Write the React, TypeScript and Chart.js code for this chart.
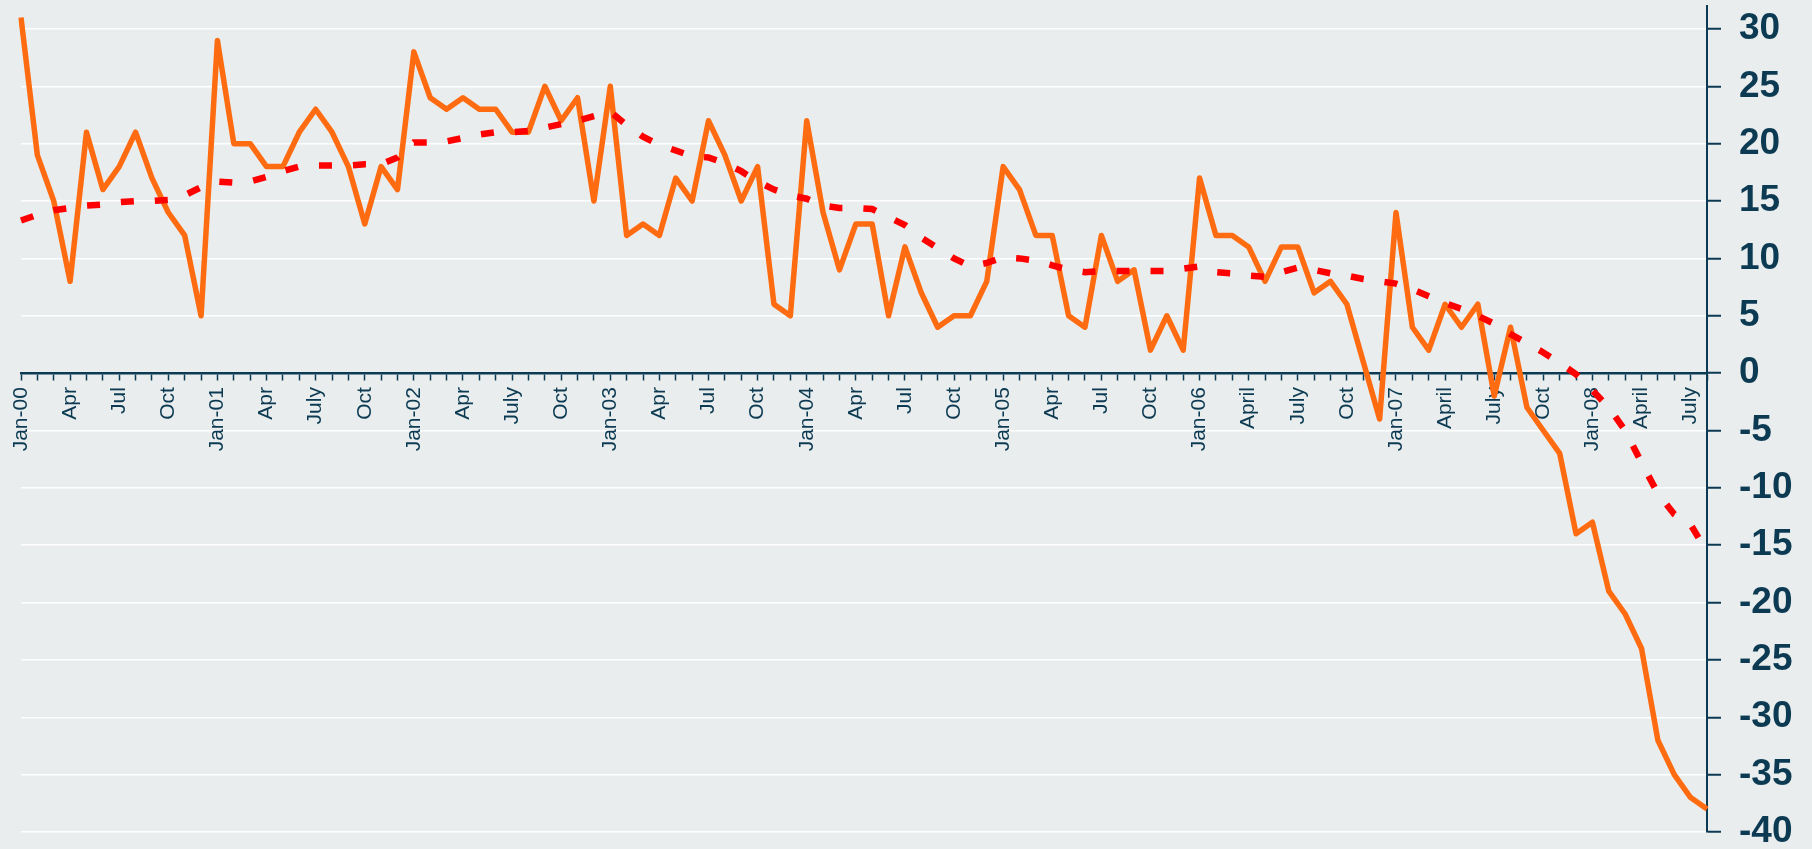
import React, { useEffect, useRef } from 'react';
import { Chart, registerables } from 'chart.js';

Chart.register(...registerables);

const NAVY = '#0B3A52';
const BG = '#E9EDED';
const FONT = '"Liberation Sans", Arial, Helvetica, sans-serif';

// Tick labels shown every third month (Jan-00 ... July-08)
const tickLabels = [
  'Jan-00', 'Apr', 'Jul', 'Oct',
  'Jan-01', 'Apr', 'July', 'Oct',
  'Jan-02', 'Apr', 'July', 'Oct',
  'Jan-03', 'Apr', 'Jul', 'Oct',
  'Jan-04', 'Apr', 'Jul', 'Oct',
  'Jan-05', 'Apr', 'Jul', 'Oct',
  'Jan-06', 'April', 'July', 'Oct',
  'Jan-07', 'April', 'July', 'Oct',
  'Jan-08', 'April', 'July',
];

// Value-axis tick labels
const yTicks = [-40, -35, -30, -25, -20, -15, -10, -5, 0, 5, 10, 15, 20, 25, 30];

const monthNames = ['Jan', 'Feb', 'Mar', 'Apr', 'May', 'Jun', 'Jul', 'Aug', 'Sep', 'Oct', 'Nov', 'Dec'];
const years = ['00', '01', '02', '03', '04', '05', '06', '07', '08'];
const categories: string[] = [];
years.forEach((y) => monthNames.forEach((m) => categories.push(`${m}-${y}`)));
categories.length = 104; // Jan-00 .. Aug-08

// Solid orange series (monthly)
const orangeValues = [
  31, 19, 15, 8, 21, 16, 18, 21, 17, 14, 12, 5,
  29, 20, 20, 18, 18, 21, 23, 21, 18, 13, 18, 16,
  28, 24, 23, 24, 23, 23, 21, 21, 25, 22, 24, 15,
  25, 12, 13, 12, 17, 15, 22, 19, 15, 18, 6, 5,
  22, 14, 9, 13, 13, 5, 11, 7, 4, 5, 5, 8,
  18, 16, 12, 12, 5, 4, 12, 8, 9, 2, 5, 2,
  17, 12, 12, 11, 8, 11, 11, 7, 8, 6, 1, -4,
  14, 4, 2, 6, 4, 6, -2, 4, -3, -5, -7, -14,
  -13, -19, -21, -24, -32, -35, -37, -38,
];

// Dotted red series (monthly)
const redValues = [
  13.3, 13.8, 14.2, 14.4, 14.6, 14.7, 14.9, 15.0, 15.0, 15.1, 15.5, 16.2,
  16.7, 16.6, 16.7, 17.1, 17.6, 18.0, 18.1, 18.1, 18.1, 18.2, 18.2, 18.8,
  20.1, 20.1, 20.2, 20.5, 20.8, 21.0, 21.0, 21.1, 21.4, 21.7, 22.0, 22.4,
  22.8, 21.6, 20.6, 19.9, 19.4, 18.9, 18.8, 18.3, 17.6, 16.7, 16.0, 15.5,
  15.2, 14.6, 14.4, 14.4, 14.3, 13.6, 12.9, 11.8, 10.9, 10.0, 9.3, 9.6,
  10.1, 10.0, 9.8, 9.4, 9.0, 8.8, 8.9, 8.9, 8.9, 8.9, 8.9, 9.1,
  9.3, 8.8, 8.7, 8.5, 8.4, 8.8, 9.2, 9.0, 8.7, 8.5, 8.2, 8.0,
  7.8, 7.3, 6.7, 6.1, 5.6, 5.0, 4.3, 3.4, 2.6, 1.8, 0.9, -0.1,
  -1.5, -3.0, -5.0, -7.8, -10.5, -12.3, -13.2, -15.6,
];

const bgPlugin = {
  id: 'bgFill',
  beforeDraw(chart: any) {
    const { ctx, width, height } = chart;
    ctx.save();
    ctx.fillStyle = BG;
    ctx.fillRect(0, 0, width, height);
    ctx.restore();
  },
};

export default function App() {
  const canvasRef = useRef<HTMLCanvasElement | null>(null);

  useEffect(() => {
    document.body.style.margin = '0';
    document.body.style.background = BG;
    const canvas = canvasRef.current;
    if (!canvas) return;
    const chart = new Chart(canvas, {
      type: 'line',
      data: {
        labels: categories,
        datasets: [
          {
            label: 'Red',
            data: redValues,
            borderColor: '#FF0000',
            borderWidth: 6.5,
            borderDash: [13, 21],
            borderCapStyle: 'butt',
            pointRadius: 0,
            tension: 0,
            fill: false,
          },
          {
            label: 'Orange',
            data: orangeValues,
            borderColor: '#FF6B10',
            borderWidth: 5.5,
            borderJoinStyle: 'round',
            pointRadius: 0,
            tension: 0,
            fill: false,
          },
        ],
      },
      options: {
        animation: false,
        responsive: false,
        devicePixelRatio: 1,
        layout: { padding: { left: 21, right: 0, top: 6, bottom: 17 } },
        plugins: {
          legend: { display: false },
          tooltip: { enabled: false },
          title: { display: false },
        },
        scales: {
          x: {
            type: 'category',
            position: { y: 0 } as any,
            offset: false,
            grid: {
              display: true,
              drawOnChartArea: false,
              drawTicks: true,
              tickLength: 6,
              tickColor: NAVY,
              tickWidth: 1.5,
              offset: false,
            },
            border: { display: true, color: NAVY, width: 2.5 },
            ticks: {
              autoSkip: false,
              minRotation: 90,
              maxRotation: 90,
              padding: 8,
              color: NAVY,
              font: { family: FONT, size: 21 },
              callback: (_v: any, i: number) => (i % 3 === 0 ? tickLabels[i / 3] ?? '' : ''),
            },
          },
          y: {
            position: 'right',
            min: -40,
            max: 32,
            afterBuildTicks: (s: any) => {
              s.ticks = yTicks.map((v) => ({ value: v }));
            },
            afterFit: (s: any) => {
              s.width = 105;
              s.paddingTop = 0;
              s.paddingBottom = 0;
            },
            grid: {
              color: (ctx: any) => (ctx.tick && ctx.tick.value === 0 ? 'rgba(0,0,0,0)' : '#FFFFFF'),
              lineWidth: 1.5,
              drawTicks: true,
              tickLength: 14,
              tickColor: NAVY,
              tickWidth: 2,
            },
            border: { display: true, color: NAVY, width: 2 },
            ticks: {
              padding: 18,
              color: NAVY,
              font: { family: FONT, size: 37, weight: 'bold' },
            },
          },
        },
      },
      plugins: [bgPlugin],
    } as any);
    return () => chart.destroy();
  }, []);

  return (
    <div style={{ width: 1812, height: 849, background: BG }}>
      <canvas ref={canvasRef} width={1812} height={849} style={{ display: 'block', width: 1812, height: 849 }} />
    </div>
  );
}
